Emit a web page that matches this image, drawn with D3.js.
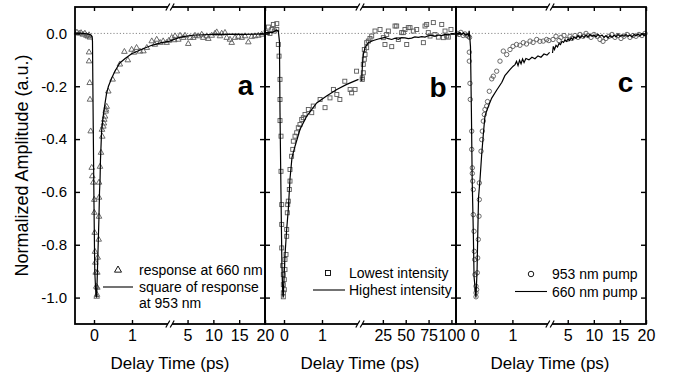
<!DOCTYPE html>
<html>
<head>
<meta charset="utf-8">
<script src="https://cdn.jsdelivr.net/npm/d3@7"></script>
<style>
  body { margin: 0; background: #fff; }
  svg { display: block; font-family: "Liberation Sans", Arial, sans-serif; }
</style>
</head>
<body>
<script>
// [time (ps), normalized amplitude]; "1" = left part of the broken axis, "2" = right part

// panel a: triangles = response at 660 nm, line = square of response at 953 nm
const aMarks1 = [[-0.45,0.004],[-0.39,0],[-0.34,0.002],[-0.29,-0.004],[-0.24,0],[-0.2,-0.008],[-0.16,-0.011],[-0.13,-0.006],[-0.105,-0.015],
  [-0.13,-0.071],[-0.13,-0.105],[-0.113,-0.187],[-0.105,-0.25],[-0.087,-0.37],[-0.06,-0.508],[-0.045,-0.54],[-0.018,-0.564],[0.008,-0.629],
  [0.008,-0.678],[0.018,-0.754],[0.026,-0.826],[0.034,-0.867],[0.045,-0.905],[0.06,-0.958],[0.071,-0.996],[0.079,-0.989],[0.087,-0.962],
  [0.087,-0.905],[0.097,-0.848],[0.124,-0.78],[0.132,-0.693],[0.132,-0.621],[0.132,-0.564],[0.158,-0.504],[0.184,-0.451],[0.218,-0.39],
  [0.21,-0.364],[0.245,-0.352],[0.26,-0.34],[0.27,-0.326],[0.29,-0.314],[0.307,-0.295],[0.316,-0.288],[0.334,-0.277],[0.376,-0.219],
  [0.49,-0.174],[0.6,-0.143],[0.68,-0.117],[0.8,-0.069],[0.89,-0.101],[0.99,-0.061],[1.05,-0.072],[1.12,-0.054],[1.21,-0.068],[1.3,-0.067],
  [1.39,-0.054],[1.52,-0.029],[1.6,-0.042],[1.65,-0.023],[1.74,-0.035],[1.82,-0.029],[1.91,-0.035],[1.97,-0.027]];
const aLine1 = [[-0.5,0.002],[-0.3,0],[-0.15,-0.003],[-0.08,-0.006],[-0.05,-0.012],[-0.04,-0.03],[-0.02,-0.35],[0,-0.65],[0.02,-0.9],
  [0.05,-0.99],[0.07,-1.0],[0.1,-0.85],[0.13,-0.7],[0.145,-0.6],[0.16,-0.55],[0.17,-0.48],[0.2,-0.37],[0.245,-0.31],[0.29,-0.265],
  [0.33,-0.228],[0.38,-0.2],[0.47,-0.168],[0.55,-0.143],[0.68,-0.112],[0.82,-0.095],[0.99,-0.077],[1.26,-0.06],[1.52,-0.045],[1.78,-0.035],[2.0,-0.029]];
const aMarks2 = [[1.93,-0.016],[2.43,-0.025],[2.57,-0.01],[3.21,-0.023],[3.54,-0.008],[4.18,-0.016],[4.51,-0.008],[5.14,-0.039],[5.47,-0.016],
  [6.11,-0.016],[6.44,-0.008],[7.08,-0.01],[7.74,-0.004],[8.05,-0.016],[8.71,-0.01],[9.02,-0.02],[9.68,-0.008],[10.32,0],[10.65,0.005],
  [11.28,-0.01],[11.61,0],[12.25,0.003],[12.58,-0.016],[13.22,-0.023],[13.55,-0.035],[14.19,-0.016],[14.83,-0.012],[15.49,-0.016],
  [16.13,-0.01],[16.77,-0.033],[17.42,-0.012],[18.06,-0.01],[18.7,-0.008],[19.36,-0.004]];
const aLine2 = [[1.6,-0.029],[2.6,-0.021],[3.5,-0.015],[4.5,-0.011],[6,-0.007],[8,-0.005],[10,-0.004],[12,-0.004],[14,-0.003],[16,-0.004],[18,-0.003],[20,-0.002]];

// panel b: squares = lowest intensity, line = highest intensity
const bMarks1 = [[-0.47,0.004],[-0.41,0.024],[-0.37,0],[-0.32,0.015],[-0.28,0.034],[-0.255,0.009],[-0.19,0.037],[-0.19,0.015],
  [-0.15,-0.042],[-0.13,-0.086],[-0.105,-0.174],[-0.105,-0.25],[-0.105,-0.33],[-0.079,-0.389],[-0.079,-0.522],[-0.06,-0.648],
  [-0.06,-0.723],[-0.06,-0.812],[-0.034,-0.879],[-0.018,-0.913],[-0.018,-0.951],[-0.018,-0.982],[-0.018,-0.997],[0.008,-0.97],
  [0.008,-0.932],[0.026,-0.894],[0.026,-0.856],[0.053,-0.837],[0.071,-0.768],[0.071,-0.742],[0.087,-0.679],[0.097,-0.648],[0.113,-0.635],
  [0.14,-0.591],[0.158,-0.559],[0.158,-0.515],[0.2,-0.465],[0.23,-0.439],[0.245,-0.408],[0.29,-0.389],[0.334,-0.376],[0.376,-0.357],
  [0.42,-0.345],[0.466,-0.326],[0.508,-0.319],[0.553,-0.307],[0.64,-0.288],[0.73,-0.3],[0.77,-0.275],[0.95,-0.25],[1.08,-0.281],
  [1.21,-0.244],[1.3,-0.212],[1.39,-0.231],[1.47,-0.25],[1.6,-0.181],[1.74,-0.212],[1.78,-0.225],[1.87,-0.212],[1.91,-0.143]];
const bLine1 = [[-0.5,0.003],[-0.3,0.004],[-0.2,0.012],[-0.15,0.01],[-0.12,-0.03],[-0.105,-0.3],[-0.08,-0.6],[-0.055,-0.88],[-0.03,-0.99],
  [-0.02,-1.0],[0,-0.93],[0.026,-0.84],[0.07,-0.742],[0.113,-0.667],[0.158,-0.55],[0.21,-0.47],[0.29,-0.427],[0.42,-0.364],[0.6,-0.313],
  [0.86,-0.263],[1.12,-0.237],[1.39,-0.212],[1.65,-0.193],[1.96,-0.174]];
const bMarks2 = [[2.5,-0.174],[2.5,-0.168],[3.6,-0.149],[3.6,-0.117],[4.7,-0.098],[5.5,-0.08],[4.7,-0.061],[7.3,-0.054],[7.3,-0.035],
  [9.1,-0.029],[10.9,-0.019],[12.8,-0.01],[16.4,0.009],[21.9,0.015],[25.5,-0.016],[27.3,-0.042],[29.2,-0.004],[31,0.009],[34.7,-0.05],
  [38.3,0.028],[40.1,0.028],[41.9,-0.023],[45.6,0.003],[47.4,0.003],[49.2,0.015],[51.1,-0.042],[52.8,0.022],[54.7,0.022],[58.3,0.009],
  [62,0.015],[69.3,-0.035],[71.1,0.028],[72.9,0.034],[74.7,0.003],[76.6,-0.01],[80.2,0.041],[82,-0.004],[85.7,-0.014],[89.4,0.034],
  [91.2,-0.016],[93,0.009],[94.8,-0.01],[96.6,-0.014],[99.5,0.015]];
const bLine2 = [[1.86,-0.18],[2.5,-0.13],[3.6,-0.08],[5.5,-0.054],[9.1,-0.035],[14.5,-0.027],[20,-0.021],[24,-0.018],[27.3,-0.015],
  [31,-0.02],[34.7,-0.023],[38.5,-0.018],[41.9,-0.022],[45.5,-0.016],[49.2,-0.017],[52.8,-0.02],[56.5,-0.018],[60,-0.013],[63.8,-0.015],
  [67.5,-0.012],[71.1,-0.014],[74.7,-0.009],[78.4,-0.007],[82,-0.01],[85.7,-0.006],[89.3,-0.008],[93,-0.004],[96.6,-0.005],[100.3,-0.001],[104,-0.002]];

// panel c: circles = 953 nm pump, line = 660 nm pump
const cMarks1 = [[-0.47,0],[-0.42,-0.004],[-0.37,0.004],[-0.31,-0.008],[-0.26,-0.002],[-0.21,-0.008],[-0.17,-0.011],[-0.14,-0.015],
  [-0.146,-0.071],[-0.146,-0.105],[-0.128,-0.189],[-0.12,-0.25],[-0.082,-0.37],[-0.082,-0.439],[-0.066,-0.509],[-0.066,-0.53],
  [-0.056,-0.559],[-0.04,-0.591],[-0.04,-0.686],[-0.021,-0.749],[-0.013,-0.825],[-0.003,-0.856],[0.005,-0.913],[0.032,-0.957],
  [0.032,-0.982],[0.032,-0.997],[0.05,-0.97],[0.066,-0.906],[0.077,-0.85],[0.093,-0.78],[0.112,-0.692],[0.12,-0.629],[0.12,-0.566],
  [0.165,-0.446],[0.184,-0.402],[0.2,-0.37],[0.226,-0.332],[0.253,-0.307],[0.271,-0.288],[0.316,-0.275],[0.338,-0.258],[0.386,-0.219],
  [0.45,-0.172],[0.492,-0.162],[0.582,-0.143],[0.67,-0.105],[0.758,-0.067],[0.848,-0.08],[0.936,-0.061],[1.016,-0.049],[1.11,-0.042],
  [1.2,-0.045],[1.29,-0.035],[1.375,-0.04],[1.47,-0.029],[1.55,-0.034],[1.646,-0.023],[1.73,-0.03],[1.82,-0.029],[1.91,-0.023],[1.97,-0.027]];
const cLine1 = [[-0.5,0.004],[-0.45,-0.002],[-0.4,0.003],[-0.35,-0.004],[-0.3,0.002],[-0.25,-0.006],[-0.2,-0.002],[-0.17,-0.008],
  [-0.15,0.01],[-0.135,-0.012],[-0.115,-0.05],[-0.09,-0.3],[-0.07,-0.55],[-0.04,-0.75],[-0.02,-0.92],[0.03,-1.0],[0.06,-0.9],[0.08,-0.75],
  [0.1,-0.62],[0.14,-0.55],[0.18,-0.465],[0.23,-0.376],[0.27,-0.313],[0.35,-0.28],[0.45,-0.245],[0.58,-0.215],[0.72,-0.185],[0.8,-0.16],
  [0.94,-0.136],[1.02,-0.124],[1.07,-0.118],[1.11,-0.106],[1.15,-0.122],[1.19,-0.102],[1.23,-0.115],[1.27,-0.097],[1.31,-0.11],
  [1.36,-0.095],[1.44,-0.1],[1.52,-0.09],[1.6,-0.096],[1.68,-0.085],[1.76,-0.09],[1.84,-0.078],[1.92,-0.082],[1.99,-0.072]];
const cMarks2 = [[2.18,-0.023],[2.75,-0.011],[3.33,-0.027],[3.71,-0.015],[4.28,-0.008],[4.86,-0.023],[5.43,-0.011],[5.81,-0.019],
  [6.39,-0.008],[6.97,-0.015],[7.35,-0.004],[7.93,-0.011],[8.5,0],[8.88,-0.008],[9.46,-0.015],[10.03,-0.004],[10.61,-0.011],[11.18,-0.023],
  [11.76,-0.03],[12.33,-0.019],[12.91,-0.011],[13.48,-0.004],[14.06,-0.015],[14.63,-0.008],[15.21,-0.019],[15.78,-0.011],[16.36,-0.004],
  [16.93,-0.015],[17.51,-0.008],[18.08,-0.011],[18.66,-0.004],[19.23,-0.008],[19.81,0]];
const cLine2 = [[2.08,-0.074],[2.23,-0.049],[2.46,-0.061],[2.75,-0.045],[3.04,-0.051],[3.33,-0.038],[3.61,-0.042],[3.9,-0.03],[4.19,-0.034],
  [4.48,-0.025],[4.76,-0.03],[5.05,-0.021],[5.34,-0.027],[5.63,-0.017],[5.91,-0.023],[6.2,-0.013],[6.58,-0.019],[6.97,-0.009],[7.35,-0.017],
  [7.73,-0.008],[8.12,-0.015],[8.5,-0.006],[8.88,-0.013],[9.27,-0.004],[9.65,-0.011],[10.03,-0.006],[10.42,-0.013],[10.8,-0.004],
  [11.18,-0.011],[11.57,-0.006],[11.95,-0.015],[12.33,-0.008],[12.72,-0.017],[13.1,-0.008],[13.48,-0.015],[13.87,-0.006],[14.25,-0.013],
  [14.63,-0.004],[15.02,-0.011],[15.4,-0.006],[15.78,-0.011],[16.17,-0.004],[16.55,-0.011],[16.93,-0.006],[17.32,-0.013],[17.7,-0.004],
  [18.08,-0.009],[18.47,-0.002],[18.85,-0.009],[19.23,-0.002],[19.62,-0.008],[20,-0.004]];

const yTicks = [0, -0.2, -0.4, -0.6, -0.8, -1.0];
const ticksLeft = [0, 1];
const aTicksRight = [5, 10, 15, 20];
const bTicksRight = [25, 50, 75, 100];
const cTicksRight = [5, 10, 15, 20];

const width = 676;
const height = 377;
const plotTop = 7;
const plotBottom = 324;

const svg = d3.select("body").append("svg").attr("width", width).attr("height", height);

const y = d3.scaleLinear().domain([-1.1, 0.1]).range([plotBottom, plotTop]);

const markerColor = "#5a5a5a";

const panels = [
  { left: 75, brk: 170, right: 265, dom1: [-0.5, 2], dom2: [1.6, 20], ticks2: aTicksRight,
    marks1: aMarks1, marks2: aMarks2, line1: aLine1, line2: aLine2, symbol: "triangle", letter: "a",
    letterPos: [245.5, 95], legend: { mark: [118, 270], line: [103, 133, 287], text: 139,
      lines: [["response at 660 nm", 275], ["square of response", 291.5], ["at 953 nm", 308]] } },
  { left: 265, brk: 360, right: 456, dom1: [-0.5, 2], dom2: [0, 105], ticks2: bTicksRight,
    marks1: bMarks1, marks2: bMarks2, line1: bLine1, line2: bLine2, symbol: "square", letter: "b",
    letterPos: [438, 96.5], legend: { mark: [328, 273], line: [313, 345, 290], text: 349,
      lines: [["Lowest intensity", 278], ["Highest intensity", 295]] } },
  { left: 456, brk: 550, right: 646, dom1: [-0.5, 2], dom2: [1.6, 20], ticks2: cTicksRight,
    marks1: cMarks1, marks2: cMarks2, line1: cLine1, line2: cLine2, symbol: "circle", letter: "c",
    letterPos: [625.5, 92], legend: { mark: [531, 274], line: [515, 547, 291.5], text: 552,
      lines: [["953 nm pump", 279], ["660 nm pump", 296.5]] } },
];

const symbolMark = (sel, symbol, s, color) => {
  if (symbol === "circle") {
    sel.append("circle").attr("r", s * 0.55);
  } else if (symbol === "square") {
    sel.append("rect").attr("x", -s * 0.5).attr("y", -s * 0.5).attr("width", s).attr("height", s);
  } else {
    sel.append("path").attr("d", `M0,${-s * 0.8} L${s * 0.7},${s * 0.43} L${-s * 0.7},${s * 0.43} Z`);
  }
  sel.selectAll("*").attr("fill", "none").attr("stroke", color).attr("stroke-width", 0.9);
};

const drawMarks = (g, data, xs, symbol) => {
  g.append("g").selectAll("g").data(data).enter().append("g")
    .attr("transform", (d) => `translate(${xs(d[0])},${y(d[1])})`)
    .each(function () { symbolMark(d3.select(this), symbol, 4, markerColor); });
};

panels.forEach((p, i) => {
  const x1 = d3.scaleLinear().domain(p.dom1).range([p.left, p.brk]);
  const x2 = d3.scaleLinear().domain(p.dom2).range([p.brk, p.right]);
  const g = svg.append("g");

  // dotted zero line
  g.append("path")
    .attr("d", `M ${p.left} ${y(0)} H ${p.right}`)
    .attr("stroke", "#8a8a8a").attr("stroke-width", 1)
    .attr("stroke-dasharray", "1.2 2").attr("fill", "none");

  drawMarks(g, p.marks1, x1, p.symbol);
  drawMarks(g, p.marks2, x2, p.symbol);

  const line1 = d3.line().x((d) => x1(d[0])).y((d) => y(d[1]));
  const line2 = d3.line().x((d) => x2(d[0])).y((d) => y(d[1]));
  g.append("path").datum(p.line1).attr("d", line1)
    .attr("fill", "none").attr("stroke", "#000").attr("stroke-width", 1.2);
  g.append("path").datum(p.line2).attr("d", line2)
    .attr("fill", "none").attr("stroke", "#000").attr("stroke-width", 1.2);

  // frame
  g.append("rect")
    .attr("x", p.left).attr("y", plotTop)
    .attr("width", p.right - p.left).attr("height", plotBottom - plotTop)
    .attr("fill", "none").attr("stroke", "#000").attr("stroke-width", 1.8);

  // x axes (inward ticks)
  [[x1, ticksLeft], [x2, p.ticks2]].forEach(([xs, tv]) => {
    g.append("g").attr("class", "axis xaxis")
      .attr("transform", `translate(0,${plotBottom})`)
      .call(d3.axisBottom(xs).tickValues(tv).tickSize(-4).tickPadding(6).tickFormat(d3.format("d")))
      .call((a) => a.select(".domain").remove());
    g.append("g").attr("class", "axis")
      .attr("transform", `translate(0,${plotTop})`)
      .call(d3.axisTop(xs).tickValues(tv).tickSize(-4).tickFormat(""))
      .call((a) => a.select(".domain").remove());
  });

  // y axes (inward ticks)
  g.append("g").attr("class", "axis")
    .attr("transform", `translate(${p.left},0)`)
    .call(d3.axisLeft(y).tickValues(yTicks).tickSize(-5).tickPadding(8)
      .tickFormat(i === 0 ? (d) => d.toFixed(1) : ""))
    .call((a) => a.select(".domain").remove());
  g.append("g").attr("class", "axis")
    .attr("transform", `translate(${p.right},0)`)
    .call(d3.axisRight(y).tickValues(yTicks).tickSize(-5).tickFormat(""))
    .call((a) => a.select(".domain").remove());

  // break marks
  [plotTop, plotBottom].forEach((yy) => {
    g.append("rect").attr("x", p.brk - 2).attr("y", yy - 2).attr("width", 4).attr("height", 4).attr("fill", "#fff");
    [-2.2, 2.2].forEach((off) => {
      g.append("path")
        .attr("d", `M ${p.brk + off - 2} ${yy + 3.5} L ${p.brk + off + 2} ${yy - 3.5}`)
        .attr("stroke", "#000").attr("stroke-width", 1.2);
    });
  });

  // x title
  g.append("text")
    .attr("x", p.brk).attr("y", 369)
    .attr("text-anchor", "middle").attr("font-size", 17)
    .text("Delay Time (ps)");

  // panel letter
  g.append("text")
    .attr("x", p.letterPos[0]).attr("y", p.letterPos[1])
    .attr("text-anchor", "middle").attr("font-size", 28).attr("font-weight", "bold")
    .text(p.letter);

  // legend
  const lg = p.legend;
  const lm = g.append("g").attr("transform", `translate(${lg.mark[0]},${lg.mark[1]})`);
  symbolMark(lm, p.symbol, 5, "#000");
  g.append("path").attr("d", `M ${lg.line[0]} ${lg.line[2]} H ${lg.line[1]}`)
    .attr("stroke", "#000").attr("stroke-width", 1.1);
  lg.lines.forEach(([txt, yy]) => {
    g.append("text").attr("x", lg.text).attr("y", yy).attr("font-size", 14).text(txt);
  });
});

svg.selectAll(".axis text").attr("font-size", 15).attr("fill", "#000").attr("font-family", "Liberation Sans, Arial, sans-serif");
svg.selectAll(".xaxis text").attr("font-size", 16);
svg.selectAll(".axis line").attr("stroke", "#000").attr("stroke-width", 1.4);

// y title
svg.append("text")
  .attr("transform", "translate(28,165.5) rotate(-90)")
  .attr("text-anchor", "middle").attr("font-size", 18)
  .text("Normalized Amplitude (a.u.)");
</script>
</body>
</html>
